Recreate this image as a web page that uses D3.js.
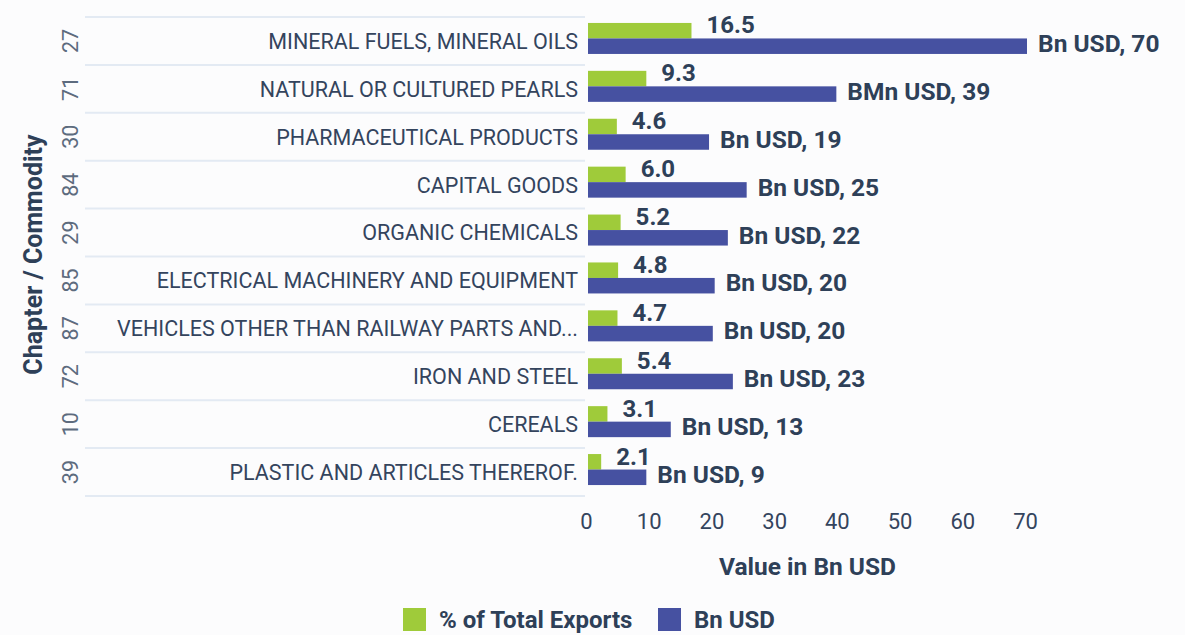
<!DOCTYPE html>
<html>
<head>
<meta charset="utf-8">
<script src="https://cdn.jsdelivr.net/npm/d3@7"></script>
<style>
  body { margin: 0; background: #fcfcfd; }
  svg { display: block; font-family: Roboto, sans-serif; }
</style>
</head>
<body>
<svg width="1185" height="635"></svg>
<script>
// Data
const chapters = ['27', '71', '30', '84', '29', '85', '87', '72', '10', '39'];
const commodities = [
    'MINERAL FUELS, MINERAL OILS',
    'NATURAL OR CULTURED PEARLS',
    'PHARMACEUTICAL PRODUCTS',
    'CAPITAL GOODS',
    'ORGANIC CHEMICALS',
    'ELECTRICAL MACHINERY AND EQUIPMENT',
    'VEHICLES OTHER THAN RAILWAY PARTS AND...',
    'IRON AND STEEL',
    'CEREALS',
    'PLASTIC AND ARTICLES THEREROF.'
];
const pctExports = [16.5, 9.3, 4.6, 6.0, 5.2, 4.8, 4.7, 5.4, 3.1, 2.1];
const bnUsd = [70, 39.6, 19.3, 25.3, 22.3, 20.2, 19.9, 23.1, 13.2, 9.3];
const bnLabels = ['Bn USD, 70', 'BMn USD, 39', 'Bn USD, 19', 'Bn USD, 25', 'Bn USD, 22',
                  'Bn USD, 20', 'Bn USD, 20', 'Bn USD, 23', 'Bn USD, 13', 'Bn USD, 9'];
const xTicks = [0, 10, 20, 30, 40, 50, 60, 70];
const seriesNames = ['% of Total Exports', 'Bn USD'];

const green = '#9fcb3a';
const blue = '#4651a1';
const textDark = '#2e4058';

const svg = d3.select('svg');

const x = d3.scaleLinear().domain([0, 70]).range([588, 1027]);
const y = d3.scaleBand().domain(chapters).range([17, 496]);
const bw = y.bandwidth();
const barH = 15.5;
const mid = d => y(d) + bw / 2 - 2.5;

// Row separators
const bounds = chapters.map(d => y(d)).concat([y.range()[1]]);
svg.append('g').selectAll('line')
    .data(bounds)
    .join('line')
    .attr('x1', 85).attr('x2', 585)
    .attr('y1', d => d).attr('y2', d => d)
    .attr('stroke', '#e3eaf3')
    .attr('stroke-width', 2);

// Category labels
const yAxisG = svg.append('g')
    .attr('transform', 'translate(578,1)')
    .call(d3.axisLeft(y).tickSize(0).tickPadding(0)
        .tickFormat((d, i) => commodities[i]));
yAxisG.select('.domain').remove();
yAxisG.selectAll('text')
    .attr('fill', '#34445d')
    .style('font-size', '21.5px')
    .style('font-family', 'Roboto, sans-serif');

// Chapter numbers
svg.append('g').selectAll('text')
    .data(chapters)
    .join('text')
    .attr('transform', d => `translate(70,${y(d) + bw / 2}) rotate(-90)`)
    .attr('text-anchor', 'middle')
    .attr('dy', '0.35em')
    .attr('fill', '#5d6b7e')
    .style('font-size', '21.5px')
    .text(d => d);

// Bars
const rows = chapters.map((c, i) => ({ c, pct: pctExports[i], bn: bnUsd[i], label: bnLabels[i] }));

svg.append('g').selectAll('rect')
    .data(rows)
    .join('rect')
    .attr('x', x(0))
    .attr('y', d => mid(d.c) - barH)
    .attr('width', d => x(d.pct) - x(0))
    .attr('height', barH)
    .attr('fill', green);

svg.append('g').selectAll('rect')
    .data(rows)
    .join('rect')
    .attr('x', x(0))
    .attr('y', d => mid(d.c))
    .attr('width', d => x(d.bn) - x(0))
    .attr('height', barH)
    .attr('fill', blue);

// Value labels
svg.append('g').selectAll('text')
    .data(rows)
    .join('text')
    .attr('x', d => x(d.pct) + 15)
    .attr('y', d => mid(d.c) - 5)
    .attr('fill', textDark)
    .style('font-size', '24px')
    .style('font-weight', 'bold')
    .text(d => d.pct.toFixed(1));

svg.append('g').selectAll('text')
    .data(rows)
    .join('text')
    .attr('x', d => x(d.bn) + 11)
    .attr('y', d => mid(d.c) + barH - 2)
    .attr('fill', textDark)
    .style('font-size', '24.5px')
    .style('font-weight', 'bold')
    .text(d => d.label);

// X axis
const xAxisG = svg.append('g')
    .attr('transform', 'translate(-2,513)')
    .call(d3.axisBottom(x).tickValues(xTicks).tickSize(0).tickPadding(0));
xAxisG.select('.domain').remove();
xAxisG.selectAll('text')
    .attr('fill', '#34445d')
    .attr('dy', '0.71em')
    .style('font-size', '22px')
    .style('font-family', 'Roboto, sans-serif');

// Axis titles
svg.append('text')
    .attr('x', (x.range()[0] + x.range()[1]) / 2)
    .attr('y', 575)
    .attr('text-anchor', 'middle')
    .attr('fill', textDark)
    .style('font-size', '24.5px')
    .style('font-weight', 'bold')
    .text('Value in Bn USD');

svg.append('text')
    .attr('transform', `translate(42,${(y.range()[0] + y.range()[1]) / 2 - 2}) rotate(-90)`)
    .attr('text-anchor', 'middle')
    .attr('fill', textDark)
    .style('font-size', '25px')
    .style('font-weight', 'bold')
    .text('Chapter / Commodity');

// Legend
const legend = svg.append('g').attr('transform', 'translate(403,608)');
const lg = legend.selectAll('g')
    .data(seriesNames)
    .join('g')
    .attr('transform', (d, i) => `translate(${i * 255},0)`);
lg.append('rect')
    .attr('width', 23).attr('height', 23)
    .attr('fill', (d, i) => i === 0 ? green : blue);
lg.append('text')
    .attr('x', 36)
    .attr('y', 20)
    .attr('fill', textDark)
    .style('font-size', '24px')
    .style('font-weight', 'bold')
    .text(d => d);
</script>
</body>
</html>
